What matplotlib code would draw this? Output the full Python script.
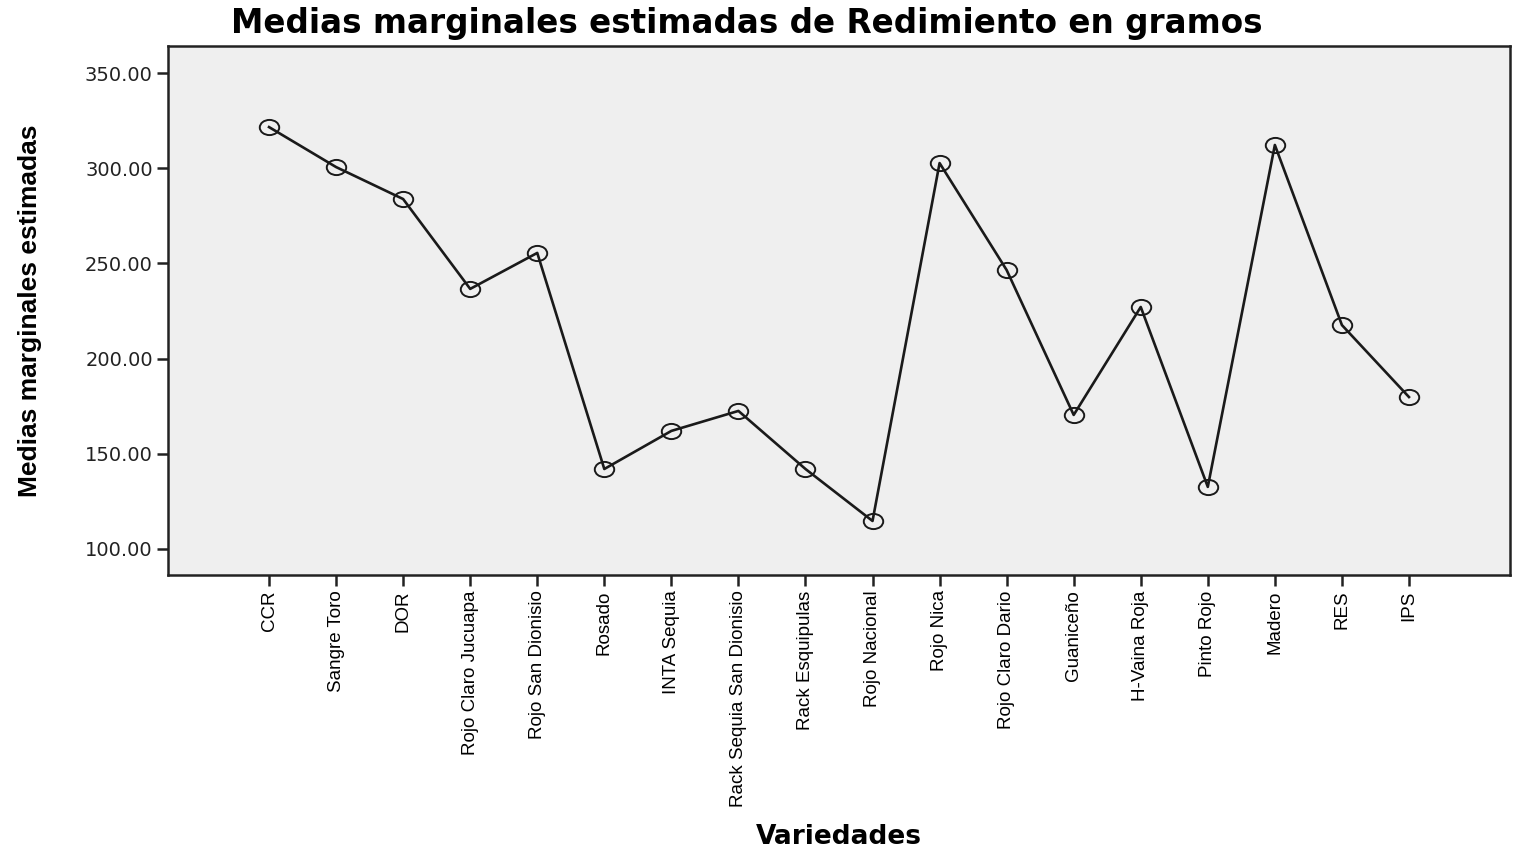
import matplotlib
matplotlib.use("Agg")
import matplotlib.pyplot as plt
from matplotlib.path import Path
from matplotlib.transforms import Affine2D

categories = ["CCR", "Sangre Toro", "DOR", "Rojo Claro Jucuapa", "Rojo San Dionisio",
              "Rosado", "INTA Sequia", "Rack Sequia San Dionisio", "Rack Esquipulas",
              "Rojo Nacional", "Rojo Nica", "Rojo Claro Dario", "Guaniceño",
              "H-Vaina Roja", "Pinto Rojo", "Madero", "RES", "IPS"]
values = [321.6, 300.6, 283.8, 236.6, 255.5, 142.0, 162.0, 172.5, 142.0,
          114.7, 302.7, 246.5, 170.4, 227.1, 132.6, 312.2, 217.6, 179.8]
yticks = [100, 150, 200, 250, 300, 350]

ellipse = Path.unit_circle().transformed(Affine2D().scale(1.0, 0.78))

fig = plt.figure(figsize=(15.18, 8.5), dpi=100)
ax = fig.add_axes([0.1107, 0.3235, 0.884, 0.6224])
ax.set_facecolor("#efefef")
x = list(range(len(categories)))
ax.plot(x, values, color="#1a1a1a", lw=1.9, marker=ellipse, markersize=14,
        markerfacecolor="none", markeredgecolor="#1a1a1a", markeredgewidth=1.4)
ax.set_xlim(-1.506, len(categories) - 1 + 1.506)
ax.set_ylim(86.3, 364.2)
ax.set_yticks(yticks)
ax.set_yticklabels([f"{v:.2f}" for v in yticks], family="DejaVu Sans", fontsize=14,
                   color="#222222")
ax.set_xticks(x)
ax.set_xticklabels(categories, rotation=90, family="Liberation Sans", fontsize=13.5)
for s in ax.spines.values():
    s.set_linewidth(1.8)
    s.set_color("#222222")
ax.tick_params(axis="both", direction="out", length=8, width=1.8, color="#222222", pad=3)
fig.text(0.492, 0.972, "Medias marginales estimadas de Redimiento en gramos",
         family="DejaVu Sans", fontweight="bold", fontsize=23.5, ha="center", va="center")
ax.set_ylabel("Medias marginales estimadas", family="Liberation Sans", fontweight="bold",
              fontsize=19)
ax.yaxis.set_label_coords(-0.094, 0.5)
ax.set_xlabel("Variedades", family="DejaVu Sans", fontweight="bold", fontsize=19)
ax.xaxis.set_label_coords(0.5, -0.4707)
fig.savefig("out.png", dpi=100, facecolor="white")
